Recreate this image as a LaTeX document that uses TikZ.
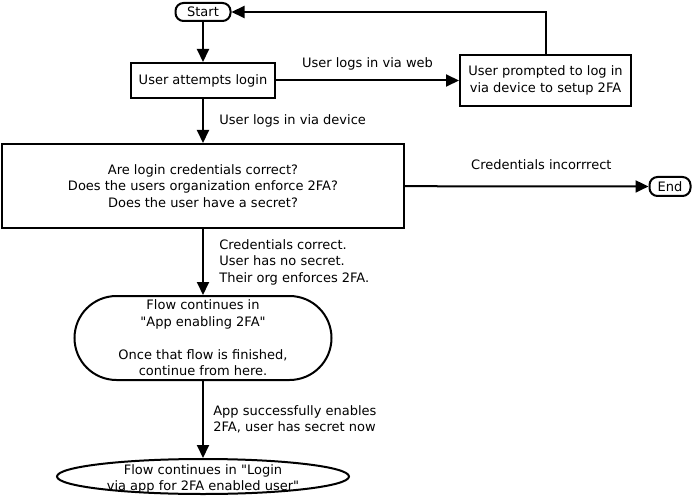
\documentclass[tikz,border=0pt]{standalone}
\usepackage{fontspec}
\setmainfont{DejaVu Sans}[Ligatures=TeXOff]
\usepackage{tikz}
\usetikzlibrary{arrows.meta,shapes}
\tikzset{FCbox/.style={draw,line width=2pt,align=center,inner sep=0pt},
	FCterm/.style={FCbox,rounded corners=8pt},
	FCtip/.style={-{Triangle[length=13pt,width=12pt]}}}

\begin{document}
\begin{tikzpicture}[x=1pt,y=-1pt,line width=2pt,font=\fontsize{13}{16.5}\selectfont]
	\useasboundingbox (0,0) rectangle (693,497);
	\node[FCterm,minimum width=55pt,minimum height=18pt] (Start) at (203,12) {Start};
	\node[FCbox,minimum width=144pt,minimum height=35pt] (Login) at (203,80.5) {User attempts login};
	\node[FCbox,minimum width=171pt,minimum height=51pt] (Prompt) at (545.5,80.5) {User prompted to log in\\via device to setup 2FA};
	\node[FCbox,minimum width=402pt,minimum height=84pt] (Check) at (203,186) {Are login credentials correct?\\Does the users organization enforce 2FA?\\Does the user have a secret?};
	\node[FCterm,minimum width=41pt,minimum height=19pt] (End) at (670,186.5) {End};
	\node[FCbox,rounded corners=42pt,minimum width=257pt,minimum height=84pt] (AppFlow) at (203,338) {Flow continues in\\"App enabling 2FA"\\[16.5pt]Once that flow is finished,\\continue from here.};
	\node[FCbox,draw=none,minimum width=292pt,minimum height=40pt] (LoginFlow) at (203,479) {Flow continues in "Login\\via app for 2FA enabled user"};
	\draw ([yshift=2.5pt]LoginFlow.center) ellipse [x radius=146pt, y radius=17.5pt];
	%
	\path[FCtip]
	(Start) edge (Login)
	(Login) edge node[above=6pt]{User logs in via web} (Prompt)
	(Login) edge node[right=12pt]{User logs in via device} (Check)
	(Check) edge node[above=12pt,pos=0.56]{Credentials incorrrect} (End)
	(Check) edge node[right=12pt,align=left]{Credentials correct.\\User has no secret.\\Their org enforces 2FA.} (AppFlow)
	(AppFlow) edge node[right=6pt,align=left]{App successfully enables\\2FA, user has secret now} (LoginFlow);
	\draw[FCtip] (Prompt) |- (Start);
\end{tikzpicture}
\end{document}
